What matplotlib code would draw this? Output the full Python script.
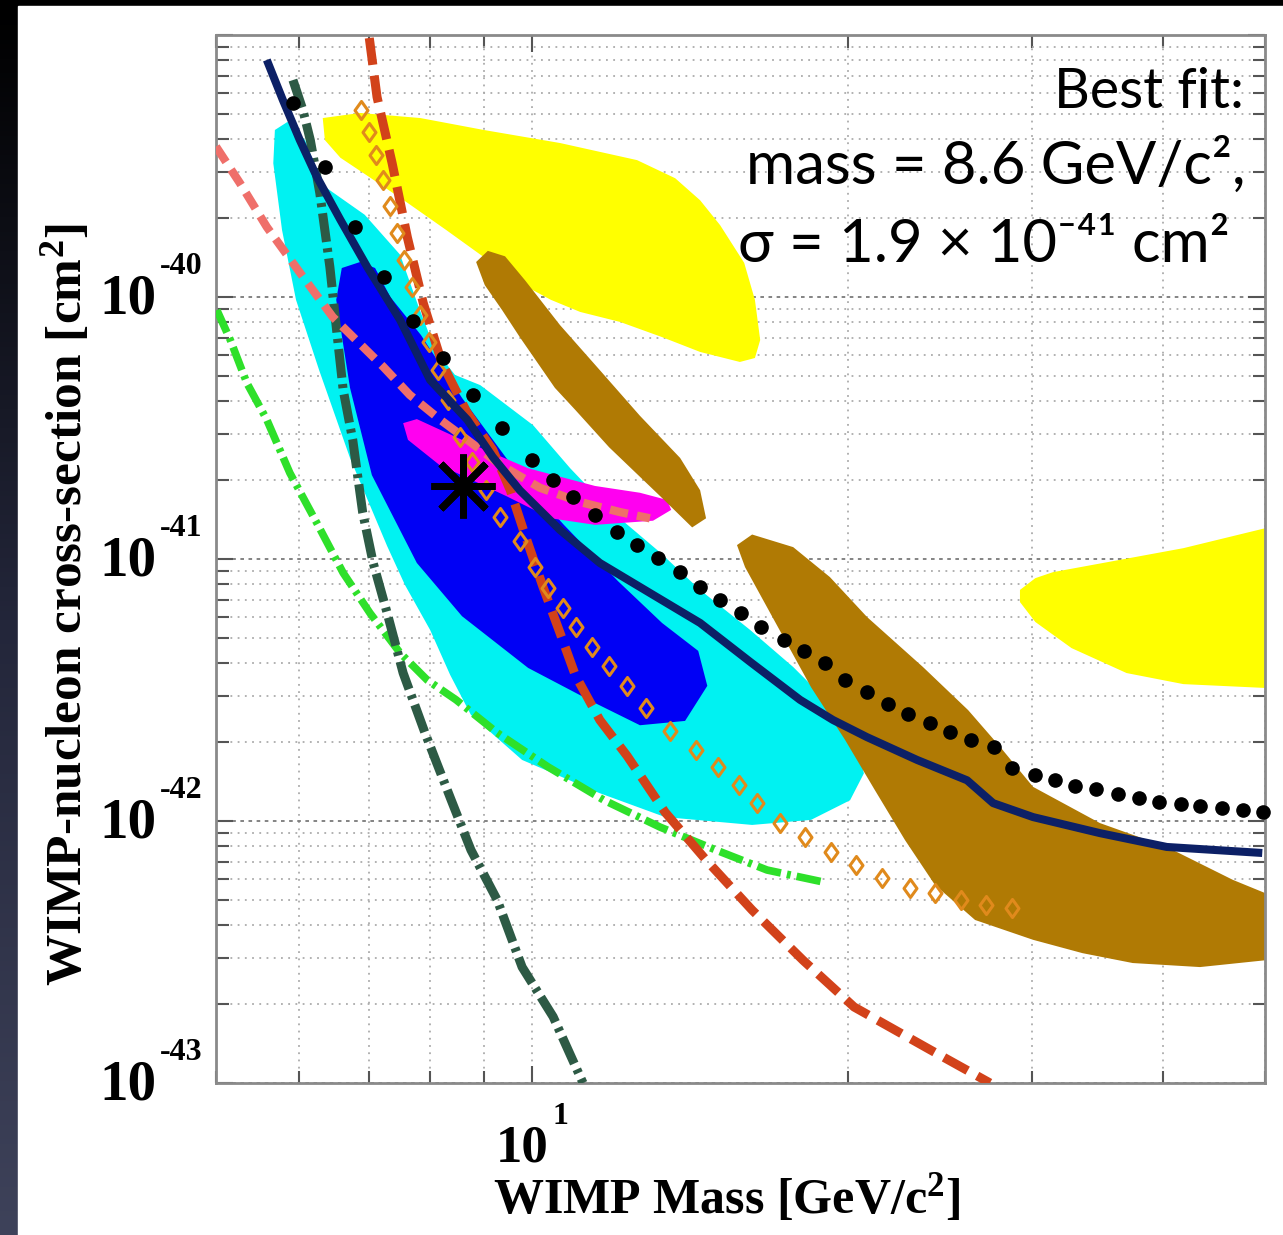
import numpy as np
import matplotlib.pyplot as plt
from matplotlib import transforms
from matplotlib.colors import LinearSegmentedColormap
from matplotlib.patches import Rectangle
from matplotlib.path import Path
from matplotlib.ticker import LogLocator, NullFormatter

plt.rcParams['mathtext.fontset'] = 'custom'
plt.rcParams['mathtext.rm'] = 'Liberation Serif:bold'
plt.rcParams['mathtext.it'] = 'Liberation Serif:bold'
plt.rcParams['mathtext.bf'] = 'Liberation Serif:bold'

# allowed regions, outlines in (mass [GeV/c^2], cross-section [cm^2])
yellow_hi_mass = [6.32, 6.86, 7.83, 9.00, 10.64, 12.60, 13.70, 14.47, 15.12, 15.94, 16.32, 16.51, 16.32,
                  15.79, 14.47, 13.31, 12.14, 11.12, 10.43, 9.74, 9.00, 8.29, 7.61, 7.00, 6.57, 6.35]
yellow_hi_xs = [4.82e-40, 5.04e-40, 4.82e-40, 4.34e-40, 3.87e-40, 3.33e-40, 2.84e-40, 2.34e-40, 1.88e-40,
                1.35e-40, 9.75e-41, 6.85e-41, 5.85e-41, 5.65e-41, 6.17e-41, 7.03e-41, 8.03e-41, 8.77e-41,
                9.75e-41, 1.13e-40, 1.42e-40, 1.80e-40, 2.29e-40, 2.87e-40, 3.40e-40, 3.97e-40]

yellow_lo_mass = [29.2, 30.2, 31.4, 35.5, 41.8, 50.0, 50.0, 41.8, 36.9, 32.7, 30.2, 29.2]
yellow_lo_xs = [7.62e-42, 8.45e-42, 8.91e-42, 9.75e-42, 1.10e-41, 1.31e-41, 3.22e-42, 3.33e-42, 3.67e-42,
                4.57e-42, 5.75e-42, 6.85e-42]

cyan_mass = [5.69, 5.85, 6.08, 6.32, 6.93, 7.49, 7.79, 8.09, 8.45, 8.93, 10.03, 10.88, 11.87, 13.25, 14.47,
             16.15, 17.75, 19.08, 20.38, 20.73, 20.11, 18.46, 16.22, 13.40, 11.59, 9.79, 8.75, 8.36, 8.00,
             7.57, 7.28, 6.71, 6.27, 5.96, 5.78, 5.67]
cyan_xs = [4.34e-40, 4.66e-40, 3.97e-40, 2.67e-40, 2.06e-40, 1.45e-40, 9.31e-41, 6.28e-41, 5.04e-41, 4.61e-41,
           3.24e-41, 2.22e-41, 1.54e-41, 1.06e-41, 7.62e-42, 5.36e-42, 3.87e-42, 2.90e-42, 2.04e-42, 1.52e-42,
           1.20e-42, 1.01e-42, 9.66e-43, 1.035e-42, 1.28e-42, 1.71e-42, 2.54e-42, 3.61e-42, 5.36e-42,
           7.96e-42, 1.12e-41, 2.43e-41, 5.26e-41, 9.75e-41, 1.80e-40, 3.24e-40]

blue_mass = [6.59, 6.86, 7.09, 7.33, 7.84, 8.58, 9.72, 10.73, 12.08, 13.31, 14.41, 14.70, 14.00, 12.68, 11.49,
             9.92, 8.58, 7.77, 7.04, 6.71, 6.51]
blue_xs = [1.29e-40, 1.36e-40, 1.29e-40, 1.0e-40, 7.16e-41, 4.12e-41, 2.09e-41, 1.35e-41, 8.24e-42, 5.70e-42,
           4.46e-42, 3.28e-42, 2.41e-42, 2.32e-42, 2.82e-42, 3.84e-42, 6.05e-42, 9.66e-42, 2.09e-41,
           4.50e-41, 9.75e-41]

magenta_mass = [7.54, 7.77, 8.58, 9.92, 11.49, 12.68, 13.46, 13.58, 13.05, 11.49, 10.43, 9.45, 8.16, 7.62]
magenta_xs = [3.30e-41, 3.42e-41, 2.85e-41, 2.22e-41, 1.90e-41, 1.79e-41, 1.68e-41, 1.54e-41, 1.40e-41,
              1.35e-41, 1.43e-41, 1.74e-41, 2.29e-41, 2.85e-41]

brown_hi_mass = [8.85, 9.08, 9.43, 9.85, 10.64, 11.61, 12.68, 13.85, 14.47, 14.66, 14.22, 13.31, 11.85, 11.0,
                 10.52, 9.74, 9.37, 9.02]
brown_hi_xs = [1.36e-40, 1.50e-40, 1.43e-40, 1.16e-40, 7.81e-41, 5.26e-41, 3.52e-41, 2.43e-41, 1.83e-41,
               1.43e-41, 1.32e-41, 1.71e-41, 2.67e-41, 3.71e-41, 4.50e-41, 7.03e-41, 8.91e-41, 1.11e-40]

brown_lo_mass = [15.69, 16.22, 17.75, 19.24, 20.87, 23.6, 26.06, 27.95, 30.05, 34.8, 40.3, 46.6, 50.0, 50.0,
                 43.35, 37.4, 33.5, 30.05, 26.46, 24.23, 22.69, 21.24, 19.89, 18.46, 17.02, 15.97]
brown_lo_xs = [1.13e-41, 1.24e-41, 1.11e-41, 8.53e-42, 6.01e-42, 3.87e-42, 2.65e-42, 1.92e-42, 1.35e-42,
               9.82e-43, 7.96e-43, 5.96e-43, 5.31e-43, 2.94e-43, 2.77e-43, 2.87e-43, 3.13e-43, 3.52e-43,
               4.19e-43, 5.70e-43, 8.45e-43, 1.31e-42, 2.04e-42, 3.24e-42, 5.85e-42, 9.31e-42]

# exclusion limits
navy_mass = [5.59, 5.79, 6.01, 6.24, 6.57, 6.97, 7.49, 8.0, 8.68, 9.18, 9.74, 10.64, 11.61, 12.96, 14.47,
             16.15, 18.02, 19.37, 20.87, 23.3, 26.0, 27.53, 30.05, 34.8, 40.3, 49.7]
navy_xs = [8.03e-40, 5.65e-40, 3.97e-40, 2.87e-40, 1.97e-40, 1.30e-40, 8.17e-41, 4.82e-41, 3.40e-41,
           2.45e-41, 1.83e-41, 1.29e-41, 9.66e-42, 7.42e-42, 5.70e-42, 4.05e-42, 2.90e-42, 2.43e-42,
           2.09e-42, 1.71e-42, 1.43e-42, 1.17e-42, 1.035e-42, 8.99e-43, 7.96e-43, 7.55e-43]

dots_mass = [5.92, 6.35, 6.78, 7.23, 7.70, 8.23, 8.79, 9.37, 10.0, 10.48, 10.95, 11.49, 12.06, 12.60, 13.19,
             13.85, 14.47, 15.12, 15.83, 16.54, 17.40, 18.18, 19.04, 19.89, 20.87, 21.86, 22.84, 23.97,
             25.04, 26.22, 27.59, 28.70, 30.18, 31.54, 32.96, 34.51, 36.22, 37.93, 39.63, 41.58, 43.35,
             45.50, 47.64, 49.8]
dots_xs = [5.50e-40, 3.13e-40, 1.85e-40, 1.19e-40, 8.10e-41, 5.85e-41, 4.23e-41, 3.16e-41, 2.39e-41,
           2.00e-41, 1.73e-41, 1.47e-41, 1.27e-41, 1.13e-41, 1.01e-41, 8.91e-42, 7.82e-42, 6.98e-42,
           6.22e-42, 5.50e-42, 4.91e-42, 4.46e-42, 4.01e-42, 3.45e-42, 3.10e-42, 2.80e-42, 2.56e-42,
           2.36e-42, 2.19e-42, 2.04e-42, 1.92e-42, 1.59e-42, 1.50e-42, 1.43e-42, 1.36e-42, 1.33e-42,
           1.27e-42, 1.22e-42, 1.18e-42, 1.16e-42, 1.14e-42, 1.12e-42, 1.10e-42, 1.08e-42]

red_mass = [7.00, 7.12, 7.36, 7.61, 7.88, 8.21, 8.68, 9.18, 9.54, 9.85, 10.25, 10.64, 11.0, 11.61, 12.33,
            13.40, 14.66, 16.22, 18.14, 20.29, 23.97, 27.34]
red_xs = [9.74e-40, 5.80e-40, 3.24e-40, 1.69e-40, 9.48e-41, 5.60e-41, 3.61e-41, 2.61e-41, 1.83e-41, 1.24e-41,
          7.82e-42, 5.22e-42, 3.61e-42, 2.43e-42, 1.77e-42, 1.08e-42, 7.10e-43, 4.57e-43, 2.94e-43,
          1.95e-43, 1.34e-43, 1.0e-43]

diamond_mass = [6.875, 7.00, 7.10, 7.22, 7.33, 7.44, 7.55, 7.69, 7.83, 7.98, 8.14, 8.32, 8.54, 8.77, 9.04,
                9.33, 9.74, 10.07, 10.36, 10.71, 11.02, 11.41, 11.85, 12.33, 12.85, 13.55, 14.35, 15.05,
                15.76, 16.39, 17.25, 18.22, 19.29, 20.38, 21.58, 22.94, 24.23, 25.66, 27.1, 28.70]
diamond_xs = [5.18e-40, 4.27e-40, 3.48e-40, 2.80e-40, 2.22e-40, 1.75e-40, 1.38e-40, 1.09e-40, 8.53e-41,
              6.73e-41, 5.26e-41, 4.05e-41, 2.92e-41, 2.35e-41, 1.83e-41, 1.45e-41, 1.17e-41, 9.31e-42,
              7.75e-42, 6.50e-42, 5.50e-42, 4.61e-42, 3.91e-42, 3.28e-42, 2.70e-42, 2.21e-42, 1.87e-42,
              1.61e-42, 1.37e-42, 1.17e-42, 9.82e-43, 8.69e-43, 7.62e-43, 6.79e-43, 6.05e-43, 5.54e-43,
              5.31e-43, 4.99e-43, 4.78e-43, 4.66e-43]

salmon_mass = [5.0, 5.27, 5.59, 6.01, 6.46, 7.22, 7.65, 8.18, 8.68, 9.33, 10.18, 11.12, 12.14, 12.96]
salmon_xs = [3.75e-40, 2.72e-40, 1.85e-40, 1.24e-40, 8.39e-41, 5.41e-41, 4.23e-41, 3.40e-41, 2.85e-41,
             2.29e-41, 1.87e-41, 1.65e-41, 1.51e-41, 1.43e-41]

dkgreen_mass = [5.92, 6.05, 6.15, 6.28, 6.42, 6.52, 6.61, 6.75, 6.90, 7.06, 7.28, 7.54, 7.91, 8.38, 8.75,
                9.27, 9.79, 10.48, 11.19]
dkgreen_xs = [6.73e-40, 5.18e-40, 3.97e-40, 2.49e-40, 1.30e-40, 7.29e-41, 4.42e-41, 2.85e-41, 1.50e-41,
              9.66e-42, 6.22e-42, 3.67e-42, 2.17e-42, 1.20e-42, 7.75e-43, 4.99e-43, 2.77e-43, 1.79e-43, 1.0e-43]

ltgreen_mass = [5.01, 5.16, 5.35, 5.59, 5.88, 6.24, 6.61, 7.01, 7.49, 7.95, 8.47, 9.27, 10.36, 11.72, 13.25,
                14.98, 16.76, 18.96]
ltgreen_xs = [8.91e-41, 6.85e-41, 4.70e-41, 3.40e-41, 2.13e-41, 1.37e-41, 8.85e-42, 6.22e-42, 4.38e-42,
              3.45e-42, 2.90e-42, 2.17e-42, 1.61e-42, 1.20e-42, 9.48e-43, 7.75e-43, 6.50e-43, 5.85e-43]

best_mass = 8.6
best_xs = 1.9e-41

y_decades = [-40, -41, -42, -43]

W, H = 1283, 1235
fig = plt.figure(figsize=(W / 100, H / 100), dpi=100, facecolor='black')

# slide background: dark strip on the left, white panel
bg = fig.add_axes([0, 0, 1, 1], zorder=-10)
strip = np.linspace(0, 1, 256)[:, None]
edge_cmap = LinearSegmentedColormap.from_list('edge', ['#000000', '#23263a', '#3e425a'])
bg.imshow(strip, cmap=edge_cmap, extent=(0, 18, H, 6), aspect='auto')
bg.add_patch(Rectangle((18, 6), W - 18, H - 6, color='white'))
bg.set_xlim(0, W)
bg.set_ylim(H, 0)
bg.axis('off')

ax = fig.add_axes([216 / W, 152 / H, 1049 / W, 1048 / H])
ax.set_xscale('log')
ax.set_yscale('log')

ax.fill(yellow_hi_mass, yellow_hi_xs, color='#ffff00', lw=0, zorder=2)
ax.fill(yellow_lo_mass, yellow_lo_xs, color='#ffff00', lw=0, zorder=2)
ax.fill(cyan_mass, cyan_xs, color='#00f2f2', lw=0, zorder=2.1)
ax.fill(blue_mass, blue_xs, color='#0000f5', lw=0, zorder=2.2)
ax.fill(magenta_mass, magenta_xs, color='#ff00f0', lw=0, zorder=2.3)
ax.fill(brown_hi_mass, brown_hi_xs, color='#b07a04', lw=0, zorder=2.4)
ax.fill(brown_lo_mass, brown_lo_xs, color='#b07a04', lw=0, zorder=2.4)

# open diamond, a little taller than wide
diamond = Path([(0, 1), (0.72, 0), (0, -1), (-0.72, 0), (0, 1)], closed=True)

ax.plot(ltgreen_mass, ltgreen_xs, color='#2ee02a', lw=5.5, dashes=(3.2, 0.8, 0.5, 0.8), zorder=3)
ax.plot(dkgreen_mass, dkgreen_xs, color='#2d5a45', lw=6.5, dashes=(3.2, 0.7, 0.45, 0.7), zorder=3.1)
ax.plot(salmon_mass, salmon_xs, color='#ef6f6a', lw=6, dashes=(2.2, 1.1), zorder=3.2)
ax.plot(red_mass, red_xs, color='#d2421a', lw=6.5, dashes=(3.0, 1.2), zorder=3.3)
ax.plot(diamond_mass, diamond_xs, ls='none', marker=diamond,
        ms=13, mfc='none', mec='#e08a1c', mew=2.2, zorder=3.4)
ax.plot(navy_mass, navy_xs, color='#0c2066', lw=5.8, solid_capstyle='butt', zorder=3.5)
ax.plot(dots_mass, dots_xs, ls='none', marker='o', ms=9.5, color='black', zorder=3.6, clip_on=False)
ax.plot([best_mass], [best_xs], ls='none', marker=(8, 2, 0), ms=46, mec='black', mew=5, zorder=4)

ax.set_xlim(5, 50)
ax.set_ylim(1e-43, 1e-39)

ax.xaxis.set_major_locator(LogLocator(base=10, numticks=10))
ax.xaxis.set_minor_locator(LogLocator(base=10, subs=np.arange(2, 10), numticks=50))
ax.yaxis.set_major_locator(LogLocator(base=10, numticks=10))
ax.yaxis.set_minor_locator(LogLocator(base=10, subs=np.arange(2, 10), numticks=50))
for axis in (ax.xaxis, ax.yaxis):
    axis.set_major_formatter(NullFormatter())
    axis.set_minor_formatter(NullFormatter())

ax.tick_params(which='both', direction='in', top=True, right=True, color='#555555', width=1.5)
ax.tick_params(which='major', length=12)
ax.tick_params(which='minor', length=9)
for sp in ax.spines.values():
    sp.set_color('#8a8a8a')
    sp.set_linewidth(2)

ax.set_axisbelow(True)
ax.grid(True, which='major', axis='y', color='#7a7a7a', ls=(0, (2, 2.5)), lw=1.3)
ax.grid(True, which='minor', axis='y', color='#ababab', ls=(0, (1, 3)), lw=1.3)
ax.grid(True, which='both', axis='x', color='#ababab', ls=(0, (1, 3)), lw=1.3)

# ROOT style tick labels: big "10" with the exponent raised beside it
serif = dict(family='Liberation Serif', weight='bold', color='black')
ytrans = ax.get_yaxis_transform()
for e in y_decades:
    t10 = transforms.offset_copy(ytrans, fig=fig, x=-59, y=-3, units='dots')
    ax.text(0, 10.0 ** e, '10', transform=t10, ha='right', va='center', fontsize=41, **serif)
    texp = transforms.offset_copy(ytrans, fig=fig, x=-56, y=31, units='dots')
    ax.text(0, 10.0 ** e, str(e), transform=texp, ha='left', va='center', fontsize=23, **serif)

xtrans = ax.get_xaxis_transform()
t10 = transforms.offset_copy(xtrans, fig=fig, x=-10, y=-79, units='dots')
ax.text(10, 0, '10', transform=t10, ha='center', va='baseline', fontsize=38, **serif)
texp = transforms.offset_copy(xtrans, fig=fig, x=21, y=-33, units='dots')
ax.text(10, 0, '1', transform=texp, ha='left', va='center', fontsize=23, **serif)

fig.text(727 / W, 1 - 1213 / H, r'WIMP Mass [GeV/c$^{2}$]', ha='center', va='baseline',
         fontsize=36, **serif)
fig.text(66 / W, 1 - 605 / H, r'WIMP-nucleon cross-section [cm$^{2}$]', rotation=90,
         ha='center', va='center', fontsize=37, **serif)

sans = dict(family=['Lato', 'DejaVu Sans'], color='black', ha='right', va='baseline')
fig.text(1244 / W, 1 - 108 / H, 'Best fit:', fontsize=40, **sans)
fig.text(1246 / W, 1 - 184 / H, 'mass = 8.6 GeV/c²,', fontsize=43, **sans)
fig.text(1230 / W, 1 - 262 / H, 'σ = 1.9 × 10⁻⁴¹ cm²', fontsize=43, **sans)

fig.savefig('out.png', dpi=100, facecolor=fig.get_facecolor())
